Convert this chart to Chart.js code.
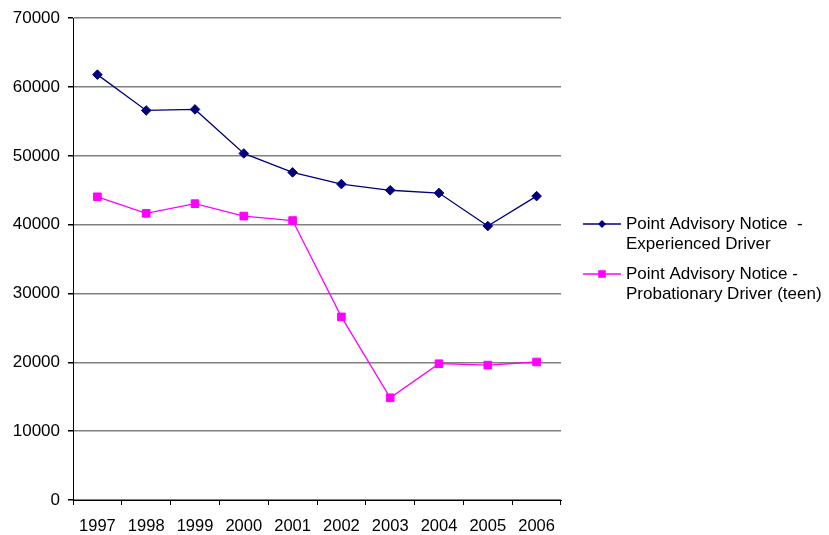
<!DOCTYPE html>
<html>
<head>
<meta charset="utf-8">
<script src="https://cdn.jsdelivr.net/npm/chart.js@4.4.1/dist/chart.umd.min.js"></script>
<style>
  html, body { margin: 0; padding: 0; background: #fff; }
  #wrap { width: 829px; height: 535px; }
</style>
</head>
<body>
<div id="wrap"><canvas id="chart" width="829" height="535"></canvas></div>
<script>
// --- data ---
const years = ['1997', '1998', '1999', '2000', '2001', '2002', '2003', '2004', '2005', '2006'];
const experienced = [61800, 56600, 56750, 50350, 47600, 45900, 45000, 44600, 39800, 44150];
const probationary = [44050, 41650, 43050, 41250, 40600, 26600, 14850, 19800, 19600, 20050];
const legendLines = [
    ['Point Advisory Notice  -', 'Experienced Driver'],
    ['Point Advisory Notice -', 'Probationary Driver (teen)']
];

const NAVY = '#000080';
const PINK = '#ff00ff';
const FONT = '"Liberation Sans", Arial, sans-serif';

// legend drawn by hand so the labels can wrap on two lines like the original
const sideLegend = {
    id: 'sideLegend',
    afterDraw(chart) {
        const ctx = chart.ctx;
        const x0 = 583, x1 = 621, tx = 626;
        const rows = [224, 274];
        chart.data.datasets.forEach((ds, i) => {
            const y = rows[i];
            ctx.save();
            ctx.strokeStyle = ds.borderColor;
            ctx.lineWidth = 1.3;
            ctx.beginPath(); ctx.moveTo(x0, y); ctx.lineTo(x1, y); ctx.stroke();
            ctx.fillStyle = ds.borderColor;
            const mx = (x0 + x1) / 2;
            if (ds.pointStyle === 'rectRot') {
                ctx.beginPath();
                ctx.moveTo(mx, y - 4); ctx.lineTo(mx + 4, y); ctx.lineTo(mx, y + 4); ctx.lineTo(mx - 4, y);
                ctx.closePath(); ctx.fill();
            } else {
                ctx.fillRect(mx - 3.8, y - 3.8, 7.6, 7.6);
            }
            ctx.fillStyle = '#000';
            ctx.font = '17px ' + FONT;
            ctx.textBaseline = 'middle';
            ctx.textAlign = 'left';
            legendLines[i].forEach((t, k) => ctx.fillText(t, tx, y + k * 20.5));
            ctx.restore();
        });
    }
};

new Chart(document.getElementById('chart'), {
    type: 'line',
    data: {
        labels: years,
        datasets: [
            {
                label: legendLines[0].join(' '),
                data: experienced,
                borderColor: NAVY,
                backgroundColor: NAVY,
                borderWidth: 1.3,
                pointStyle: 'rectRot',
                pointRadius: 4.8,
                pointHoverRadius: 4.8,
                pointBorderWidth: 1,
                tension: 0
            },
            {
                label: legendLines[1].join(' '),
                data: probationary,
                borderColor: PINK,
                backgroundColor: PINK,
                borderWidth: 1.3,
                pointStyle: 'rect',
                pointRadius: 5.4,
                pointHoverRadius: 5.4,
                pointBorderWidth: 1,
                tension: 0
            }
        ]
    },
    options: {
        responsive: false,
        animation: false,
        layout: { padding: { top: 16, right: 268, left: 0, bottom: 0 } },
        plugins: {
            legend: { display: false },
            tooltip: { enabled: false }
        },
        scales: {
            x: {
                offset: true,
                grid: { offset: true, drawOnChartArea: false, drawTicks: true, tickLength: 5, color: '#000' },
                border: { color: '#000', width: 1 },
                ticks: { color: '#000', font: { family: FONT, size: 16.5 }, padding: 12, maxRotation: 0, autoSkip: false },
                afterFit(s) { s.height = 35; }
            },
            y: {
                min: 0,
                max: 70000,
                ticks: {
                    stepSize: 10000, color: '#000', font: { family: FONT, size: 17 }, padding: 8,
                    callback: v => String(v)
                },
                grid: { color: '#808080', lineWidth: 1.5, tickLength: 5, tickColor: '#000' },
                border: { color: '#000', width: 1 },
                afterFit(s) { s.width = 73; }
            }
        }
    },
    plugins: [sideLegend]
});
</script>
</body>
</html>
